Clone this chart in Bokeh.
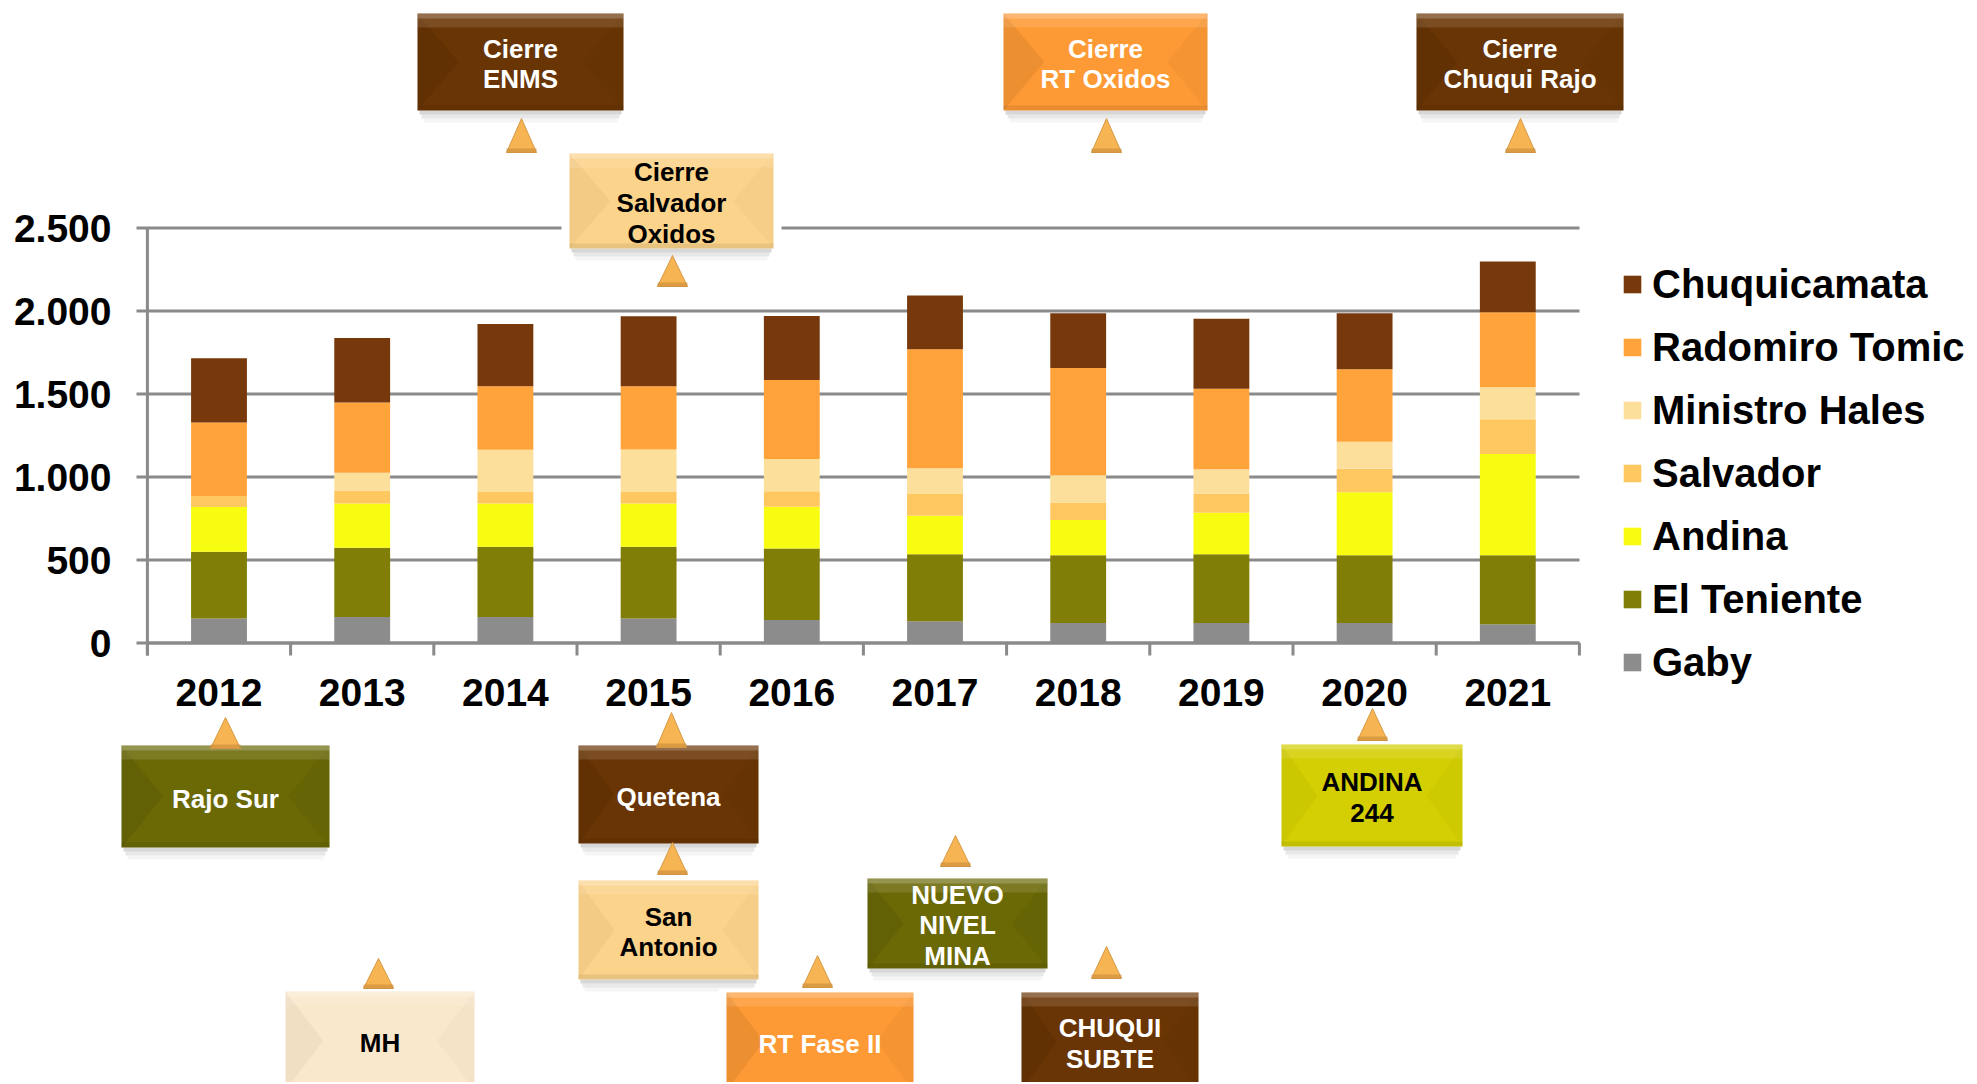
from bokeh.plotting import figure
from bokeh.models import Range1d, Legend, LegendItem
from bokeh.core.properties import value
from bokeh.embed import file_html
from bokeh.resources import INLINE

# ---------------- data ----------------
years = ["2012", "2013", "2014", "2015", "2016", "2017", "2018", "2019", "2020", "2021"]
gaby = [147, 157, 157, 147, 139, 131, 121, 121, 121, 113]
el_teniente = [403, 417, 423, 433, 430, 404, 408, 414, 408, 416]
andina = [269, 267, 261, 261, 252, 232, 212, 250, 379, 609]
salvador = [67, 77, 71, 71, 93, 131, 105, 115, 141, 210]
ministro_hales = [0, 107, 252, 254, 194, 155, 165, 147, 164, 192]
radomiro_tomic = [443, 424, 382, 380, 476, 717, 646, 485, 436, 452]
chuquicamata = [386, 389, 376, 423, 386, 323, 329, 421, 337, 306]

series_keys = ["gaby", "el_teniente", "andina", "salvador", "ministro_hales",
               "radomiro_tomic", "chuquicamata"]
series_names = ["Gaby", "El Teniente", "Andina", "Salvador", "Ministro Hales",
                "Radomiro Tomic", "Chuquicamata"]
series_colors = ["#8C8C8C", "#807E06", "#F8FC10", "#FFC760", "#FDDF9C",
                 "#FFA33A", "#77390B"]

y_ticks = [0, 500, 1000, 1500, 2000, 2500]
y_tick_labels = ["0", "500", "1.000", "1.500", "2.000", "2.500"]

# ---------------- layout (page pixels) ----------------
W, H = 1975, 1082
OFF = 0                 # canvas origin on the page
X0, DX = 218.5, 143.2   # page-x of first category centre, px per category
Y0, PPU = 642.5, 415.0 / 2500.0   # page-y of value 0, px per unit


def dx(px):
    return (px - X0) / DX


def dy(py):
    return (Y0 - py) / PPU


FONT = value("Liberation Sans")

p = figure(width=W, height=H, output_backend="svg", toolbar_location=None,
           x_axis_location=None, y_axis_location=None, title=None,
           x_range=Range1d(dx(OFF), dx(OFF + W)),
           y_range=Range1d(dy(OFF + H), dy(OFF)),
           min_border=0, outline_line_color=None, background_fill_color="white",
           border_fill_color="white")
p.xgrid.visible = False
p.ygrid.visible = False

GRID = "#8A8A8A"
# horizontal gridlines (with outward tick stubs on the left)
p.segment(x0=[dx(136)] * len(y_ticks), x1=[dx(1579)] * len(y_ticks),
          y0=y_ticks, y1=y_ticks, line_color=GRID, line_width=3)

# stacked bars
idx = list(range(len(years)))
data = dict(x=idx, gaby=gaby, el_teniente=el_teniente, andina=andina,
            salvador=salvador, ministro_hales=ministro_hales,
            radomiro_tomic=radomiro_tomic, chuquicamata=chuquicamata)
bars = p.vbar_stack(series_keys, x="x", width=0.39, color=series_colors,
                    line_color=None, source=data)

# axes drawn on the data scales
n = len(years)
p.segment(x0=[-0.5], x1=[-0.5], y0=[y_ticks[-1]], y1=[dy(655)],
          line_color=GRID, line_width=3)
p.segment(x0=[-0.5], x1=[n - 0.5], y0=[0], y1=[0], line_color=GRID, line_width=3)
bounds = [i - 0.5 for i in range(n + 1)]
p.segment(x0=bounds, x1=bounds, y0=[0] * len(bounds), y1=[dy(655)] * len(bounds),
          line_color=GRID, line_width=3)

p.text(x=[dx(111)] * len(y_ticks), y=y_ticks, text=y_tick_labels,
       text_align="right", text_baseline="middle", text_font=FONT,
       text_font_style="bold", text_font_size="39px", text_color="black")
p.text(x=idx, y=[dy(692)] * n, text=years, text_align="center",
       text_baseline="middle", text_font=FONT, text_font_style="bold",
       text_font_size="39px", text_color="black")

# ---------------- milestone call-outs ----------------
BROWN, ORANGE, PEACH = "#6A3504", "#FE9A35", "#FCD38A"
OLIVE, YELLOW, CREAM = "#6A6906", "#D3CF02", "#FAE8CC"
callouts = [
    ("Cierre\nENMS", BROWN, "white", (417, 13, 623, 110), (521, 118, 152)),
    ("Cierre\nRT Oxidos", ORANGE, "white", (1003, 13, 1207, 110), (1106, 118, 152)),
    ("Cierre\nChuqui Rajo", BROWN, "white", (1416, 13, 1623, 110), (1520, 118, 152)),
    ("Cierre\nSalvador\nOxidos", PEACH, "black", (569, 153, 773, 248), (672, 255, 286)),
    ("Rajo Sur", OLIVE, "white", (121, 745, 329, 847), (225, 717, 748)),
    ("Quetena", BROWN, "white", (578, 745, 758, 843), (671, 712, 747)),
    ("ANDINA\n244", YELLOW, "black", (1281, 744, 1462, 846), (1372, 708, 740)),
    ("San\nAntonio", PEACH, "black", (578, 880, 758, 979), (672, 842, 874)),
    ("NUEVO\nNIVEL\nMINA", OLIVE, "white", (867, 878, 1047, 968), (955, 835, 866)),
    ("MH", CREAM, "black", (285, 991, 474, 1090), (378, 958, 988)),
    ("RT Fase II", ORANGE, "white", (726, 992, 913, 1090), (817, 955, 987)),
    ("CHUQUI\nSUBTE", BROWN, "white", (1021, 992, 1198, 1090), (1106, 946, 978)),
]

for text, fill, tcol, (l, t, r, b), (cx, ay, by) in callouts:
    # white clearance around the box
    p.quad(left=[dx(l - 8)], right=[dx(r + 8)], top=[dy(t - 4)], bottom=[dy(b + 4)],
           fill_color="white", line_color=None)
    # soft shadow
    for k, a in enumerate([0.28, 0.16, 0.07]):
        p.quad(left=[dx(l + 2 + 2 * k)], right=[dx(r - 2 - 2 * k)],
               top=[dy(b + 4 * k)], bottom=[dy(b + 4 * k + 4)],
               fill_color="#707070", fill_alpha=a, line_color=None)
    # box
    p.quad(left=[dx(l)], right=[dx(r)], top=[dy(t)], bottom=[dy(b)],
           fill_color=fill, line_color=None)
    mid = (t + b) / 2.0
    bev = (r - l) * 0.2
    dark = tcol == "white"
    p.patch(x=[dx(l), dx(l + bev), dx(l)], y=[dy(t), dy(mid), dy(b)],
            fill_color="black", fill_alpha=0.07 if dark else 0.035, line_color=None)
    p.patch(x=[dx(r), dx(r - bev), dx(r)], y=[dy(t), dy(mid), dy(b)],
            fill_color="black", fill_alpha=0.035 if dark else 0.02, line_color=None)
    p.quad(left=[dx(l)], right=[dx(r)], top=[dy(t)], bottom=[dy(t + 14)],
           fill_color="white", fill_alpha=0.12, line_color=None)
    p.quad(left=[dx(l)], right=[dx(r)], top=[dy(t)], bottom=[dy(t + 5)],
           fill_color="white", fill_alpha=0.2, line_color=None)
    p.quad(left=[dx(l)], right=[dx(r)], top=[dy(b - 5)], bottom=[dy(b)],
           fill_color="black", fill_alpha=0.08, line_color=None)
    # pointer triangle
    p.patch(x=[dx(cx - 15), dx(cx), dx(cx + 15)], y=[dy(by), dy(ay), dy(by)],
            fill_color="#F6B552", line_color="#D69A45", line_width=1)
    p.quad(left=[dx(cx - 15)], right=[dx(cx + 15)], top=[dy(by - 4)], bottom=[dy(by)],
           fill_color="#C98A3A", fill_alpha=0.6, line_color=None)
    p.text(x=[dx((l + r) / 2.0)], y=[dy(mid + 2)], text=[text], text_align="center",
           text_baseline="middle", text_font=FONT, text_font_style="bold",
           text_font_size="26px", text_color=tcol, text_line_height=1.02)

# ---------------- legend ----------------
items = [LegendItem(label=name, renderers=[r])
         for name, r in reversed(list(zip(series_names, bars)))]
legend = Legend(items=items, location=(1621, 397), orientation="vertical",
                glyph_width=22, glyph_height=22, label_height=46, spacing=17,
                label_standoff=9, padding=0, margin=0,
                label_text_font="Liberation Sans", label_text_font_style="bold",
                label_text_font_size="40px", label_text_color="black",
                border_line_color=None, background_fill_alpha=0)
p.add_layout(legend)

open("out.html", "w").write(file_html(p, INLINE))
